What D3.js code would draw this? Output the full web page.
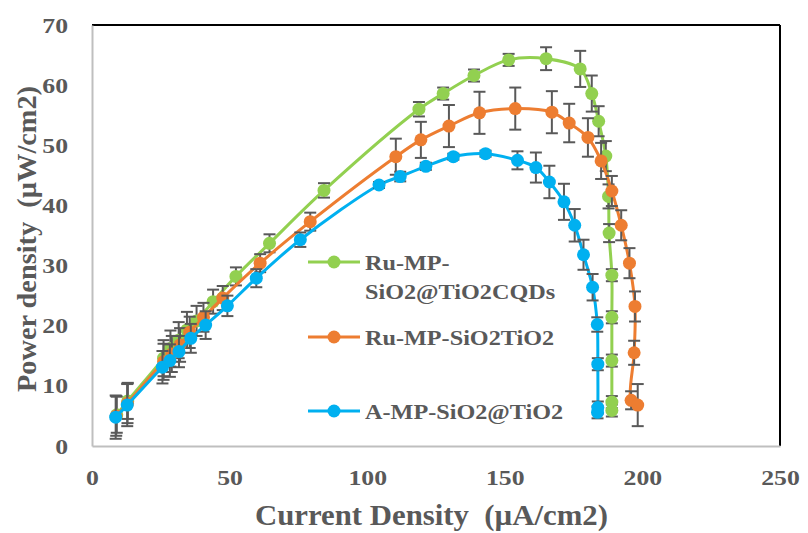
<!DOCTYPE html>
<html>
<head>
<meta charset="utf-8">
<script src="https://cdn.jsdelivr.net/npm/d3@7"></script>
<style>
  body { margin: 0; background: #fff; }
  svg text { font-family: "Liberation Serif", "Times New Roman", serif; font-weight: bold; fill: #595959; white-space: pre; }
</style>
</head>
<body>
<svg id="chart"></svg>
<script>
const width = 808,
  height = 533;
const margin = { top: 25, right: 28, bottom: 87, left: 92 };

// Ru-MP-SiO2@TiO2CQDs
const greenX = [9, 13, 26, 28.5, 31.5, 34.5, 38, 44, 52.3, 64.5, 84.3, 118.8, 127.6, 138.8, 151.4, 165, 177.4, 181.6, 184.1, 186.7, 187.7, 187.9, 188.9, 188.9, 188.9, 188.9, 188.9];
const greenY = [5.2, 7.5, 14.6, 16.2, 17.6, 19.3, 20.8, 24, 28.2, 33.7, 42.5, 56.0, 58.6, 61.6, 64.2, 64.4, 62.7, 58.6, 54.0, 48.2, 41.5, 35.4, 28.4, 21.4, 14.2, 7.3, 5.9];
const greenErr = [3, 3, 3, 3, 3, 3, 2.5, 2, 1.5, 1.5, 1.2, 1.2, 1, 1, 1, 1.9, 3, 3, 2.5, 2.5, 2, 1.5, 1, 1, 1, 1, 1];

// Ru-MP-SiO2TiO2
const orangeX = [8.8, 12.9, 26, 29, 32, 35.5, 40.5, 47.5, 61.1, 79.3, 110.4, 119.5, 129.7, 140.8, 153.8, 167.1, 173.4, 180.2, 185, 188.9, 192.3, 195.3, 197.3, 197, 195.9, 198.3];
const orangeY = [5.0, 7.1, 14.0, 15.3, 16.8, 18.9, 21.4, 24.6, 30.4, 37.3, 48.1, 50.9, 53.2, 55.4, 56.1, 55.5, 53.7, 51.3, 47.4, 42.4, 36.7, 30.4, 23.2, 15.5, 7.6, 6.8];
const orangeErr = [3.3, 3.3, 3, 3, 2.8, 2.6, 2.4, 2, 1.5, 1.5, 3.0, 3, 3.5, 3.5, 3.5, 3.5, 3.2, 3.2, 3, 2.5, 2.5, 2.5, 2.5, 2, 1.5, 3.5];

// A-MP-SiO2@TiO2
const blueX = [8.6, 12.8, 25.6, 28.3, 31.6, 35.9, 41.3, 49.2, 59.7, 75.7, 104.3, 112, 121.3, 131.3, 143, 154.6, 161.3, 166.2, 171.5, 175.4, 178.6, 181.9, 183.6, 183.8, 183.8, 183.7];
const blueY = [4.8, 6.8, 13.1, 14.2, 15.7, 17.9, 20.1, 23.3, 27.9, 34.3, 43.4, 44.8, 46.5, 48.1, 48.6, 47.5, 46.3, 43.9, 40.6, 36.7, 31.8, 26.4, 20.2, 13.6, 6.4, 5.6];
const blueErr = [3.6, 3.5, 2.7, 2.7, 2.6, 2.4, 2.3, 1.7, 1.5, 1.2, 0.5, 0.8, 0.6, 0.5, 0.5, 1.5, 2.5, 2.7, 3.0, 2.7, 2.5, 2.2, 1.2, 1.0, 1.0, 1.0];

const xTicks = [0, 50, 100, 150, 200, 250];
const yTicks = [0, 10, 20, 30, 40, 50, 60, 70];

const seriesNames = ["Ru-MP-SiO2@TiO2CQDs", "Ru-MP-SiO2TiO2", "A-MP-SiO2@TiO2"];
const seriesColors = ["#92D050", "#ED7D31", "#00B0F0"];

const makeSeries = (xs, ys, errs) => xs.map((x, i) => ({ x: x, y: ys[i], e: errs[i] }));
const series = [
  makeSeries(greenX, greenY, greenErr),
  makeSeries(orangeX, orangeY, orangeErr),
  makeSeries(blueX, blueY, blueErr)
];

// the original's type is a little wider than Times, stretch it
const stretch = (sel, k) => {
  sel.each(function() {
    const len = this.getComputedTextLength();
    d3.select(this).attr("textLength", len * k).attr("lengthAdjust", "spacingAndGlyphs");
  });
};

const svg = d3.select("#chart").attr("width", width).attr("height", height);

const x = d3.scaleLinear().domain([0, 250]).range([margin.left, width - margin.right]);
const y = d3.scaleLinear().domain([0, 70]).range([height - margin.bottom, margin.top]);

// frame: black top/right, grey left/bottom
svg.append("line")
  .attr("x1", x(0)).attr("x2", x(250)).attr("y1", y(70)).attr("y2", y(70))
  .style("stroke", "#000").style("stroke-width", 2);
svg.append("line")
  .attr("x1", x(250)).attr("x2", x(250)).attr("y1", y(70)).attr("y2", y(0))
  .style("stroke", "#000").style("stroke-width", 2);

const xAxis = svg.append("g")
  .attr("transform", `translate(0,${y(0)})`)
  .call(d3.axisBottom(x).tickValues(xTicks).tickSize(0).tickPadding(23));
const yAxis = svg.append("g")
  .attr("transform", `translate(${x(0)},0)`)
  .call(d3.axisLeft(y).tickValues(yTicks).tickSize(0).tickPadding(24));

[xAxis, yAxis].forEach(g => {
  g.select(".domain").style("stroke", "#bfbfbf").style("stroke-width", 2);
  g.selectAll("text").style("font-size", "22px").style("font-family", null).attr("fill", null);
  stretch(g.selectAll("text"), 1.17);
});

const xTitle = svg.append("text")
  .attr("x", 255)
  .attr("y", 525)
  .style("font-size", "29px")
  .text("Current Density  (µA/cm2)");
xTitle.attr("textLength", 353).attr("lengthAdjust", "spacingAndGlyphs");

const yTitle = svg.append("text")
  .attr("transform", "translate(36,392) rotate(-90)")
  .style("font-size", "28px")
  .text("Power density  (µW/cm2)");
yTitle.attr("textLength", 306).attr("lengthAdjust", "spacingAndGlyphs");

const line = d3.line()
  .x(d => x(d.x))
  .y(d => y(d.y))
  .curve(d3.curveCatmullRom.alpha(0.5));

series.forEach((data, i) => {
  const g = svg.append("g").attr("class", "series");
  g.append("path")
    .datum(data)
    .attr("d", line)
    .style("fill", "none")
    .style("stroke", seriesColors[i])
    .style("stroke-width", 3);

  const bars = g.append("g").selectAll("g").data(data).enter().append("g");
  bars.append("line")
    .attr("x1", d => x(d.x)).attr("x2", d => x(d.x))
    .attr("y1", d => y(d.y - d.e)).attr("y2", d => y(d.y + d.e));
  bars.append("line")
    .attr("x1", d => x(d.x) - 6).attr("x2", d => x(d.x) + 6)
    .attr("y1", d => y(d.y + d.e)).attr("y2", d => y(d.y + d.e));
  bars.append("line")
    .attr("x1", d => x(d.x) - 6).attr("x2", d => x(d.x) + 6)
    .attr("y1", d => y(d.y - d.e)).attr("y2", d => y(d.y - d.e));
  bars.selectAll("line").style("stroke", "#595959").style("stroke-width", 2);

  g.append("g").selectAll("circle").data(data).enter().append("circle")
    .attr("cx", d => x(d.x))
    .attr("cy", d => y(d.y))
    .attr("r", 6.5)
    .style("fill", seriesColors[i]);
});

// legend
const legendRows = [
  { y: 262, lines: ["Ru-MP-", "SiO2@TiO2CQDs"] },
  { y: 337, lines: ["Ru-MP-SiO2TiO2"] },
  { y: 411, lines: ["A-MP-SiO2@TiO2"] }
];
const legend = svg.append("g").attr("class", "legend");
legendRows.forEach((row, i) => {
  legend.append("line")
    .attr("x1", 308).attr("x2", 360).attr("y1", row.y).attr("y2", row.y)
    .style("stroke", seriesColors[i]).style("stroke-width", 3);
  legend.append("circle")
    .attr("cx", 334).attr("cy", row.y).attr("r", 6.5)
    .style("fill", seriesColors[i]);
  row.lines.forEach((s, k) => {
    const t = legend.append("text")
      .attr("x", 365)
      .attr("y", row.y + 8 + k * 29)
      .style("font-size", "22px")
      .text(s);
    stretch(t, 1.1);
  });
});
</script>
</body>
</html>
